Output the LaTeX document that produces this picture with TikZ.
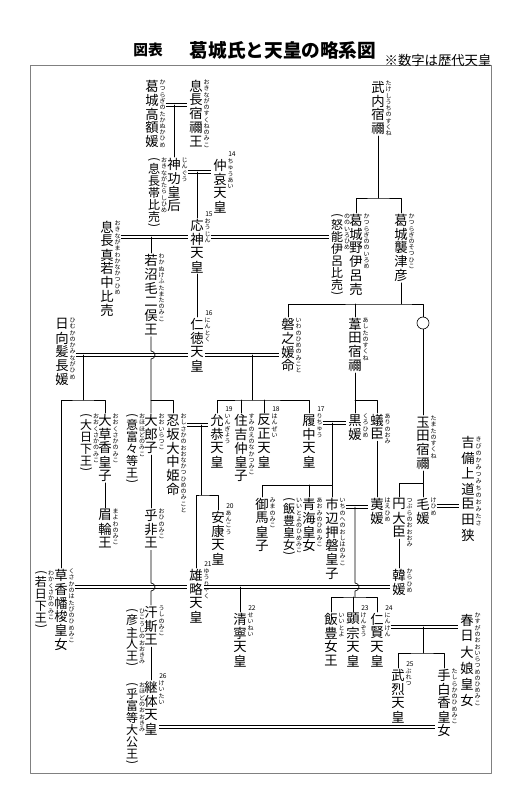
\documentclass[tikz,border=0pt]{standalone}
\usepackage{graphicx}
\usepackage{fontspec}
\setmainfont{Noto Sans CJK JP}

\makeatletter
\newdimen\vt@pitch
\def\vt@lp{(}\def\vt@rp{)}
\def\vt@box#1{\hbox to 1em{\hss\vbox to #1{\vss\hbox{\vt@c}\vss}\hss}}
\def\vt@par{\hbox to 1em{\hss\vbox to .5\vt@pitch{\vss
  \hbox{\rotatebox[origin=c]{-90}{\vt@c}}\vss}\hss}}
\def\vt@put{\ifx\vt@c\vt@lp\vt@par\else
  \ifx\vt@c\vt@rp\vt@par\else\vt@box{\vt@pitch}\fi\fi}
\newcommand\vstack[2]{\vbox{\offinterlineskip\vt@pitch=#1\relax
  \@tfor\vt@c:=#2\do{\vt@put}}}
\makeatother
\newcommand\vt[2][10.4pt]{\vstack{#1}{#2}}
\newcommand\va[1]{\vstack{9pt}{#1}}
\newcommand\vk[2][4.7pt]{\vstack{#1}{#2}}

\begin{document}
\begin{tikzpicture}[line cap=round,line join=round,x=0.75pt,y=-0.75pt,
  nm/.style={font=\fontsize{10}{10}\selectfont,inner sep=0pt,anchor=north},
  al/.style={nm,font=\fontsize{9}{9}\selectfont},
  rubytxt/.style={font=\fontsize{4.5}{4.5}\selectfont,inner sep=0pt,
    anchor=north west,xshift=0.4pt},
  nrtxt/.style={font=\fontsize{5}{5}\selectfont,inner sep=0pt,
    anchor=south west,xshift=0.8pt,yshift=1pt},
  rb/.style={label={[rubytxt]north east:\vk{#1}}},
  nr/.style={label={[nrtxt]north east:#1}},
  ln/.style={line width=0.5pt},
  mar/.style={double,double distance=1.6pt,line width=0.45pt,line cap=butt,
    shorten <=5pt,shorten >=1.5pt}]
  \useasboundingbox (0,0) rectangle (520,808);
  \draw[gray,line width=0.6pt] (30,65) rectangle (491,773);
  \node[font=\fontsize{11}{11}\selectfont\bfseries] (zuhyo) at (148,50) {図表};
  \node[font=\fontsize{14}{14}\selectfont\bfseries] (title) at (283,50) {葛城氏と天皇の略系図};
  \node[font=\fontsize{10}{10}\selectfont] (note) at (438,60) {※数字は歴代天皇};

  % names
  \node[nm,rb=かつらぎのたかぬかひめ] (takanuka) at (152,79) {\vt{葛城高額媛}};
  \node[nm,rb=おきながのすくねのみこ] (okinaga) at (196,79) {\vt{息長宿禰王}};
  \node[nm,rb=じんぐう] (jingu) at (174,157) {\vt{神功皇后}};
  \node[al,rb=おきながたらしひめ] (jinguA) at (154,157) {\va{(息長帯比売)}};
  \node[nm,nr=14,rb=ちゅうあい] (chuai) at (220,158) {\vt{仲哀天皇}};
  \node[nm,nr=15,rb=おうじん] (ojin) at (197,218) {\vt{応神天皇}};
  \node[nm,rb=おきながまわかなかつひめ] (mawaka) at (107,220) {\vt{息長真若中比売}};
  \node[nm,rb=わかぬけふたまたのみこ] (wakanuke) at (151,253) {\vt{若沼毛二俣王}};
  \node[nm,rb=たけしうちのすくね] (takeuchi) at (378,80) {\vt{武内宿禰}};
  \node[nm,rb=かつらぎのそつひこ] (sotsuhiko) at (401,213) {\vt{葛城襲津彦}};
  \node[nm,rb=かつらぎののいろめ] (noiro) at (356,213) {\vt{葛城野伊呂売}};
  \node[al,rb=ののいろひめ] (noiroA) at (337,213) {\va{(怒能伊呂比売)}};
  \node[nm,rb=ひむかのかみながひめ] (hyuga) at (62,317) {\vt{日向髪長媛}};
  \node[nm,nr=16,rb=にんとく] (nintoku) at (197,317) {\vt{仁徳天皇}};
  \node[nm,rb=いわのひめのみこと] (iwanohime) at (288,317) {\vt{磐之媛命}};
  \node[nm,rb=あしたのすくね] (ashita) at (355,317) {\vt{葦田宿禰}};
  \node[draw,circle,minimum size=9pt,inner sep=0pt,line width=0.5pt] (maru) at (423,323) {};
  \node[nm,rb=たまたのすくね] (tamata) at (423,415) {\vt{玉田宿禰}};
  \node[nm,label={[rubytxt]north east:\vk[5.3pt]{きびのかみつみちのおみたさ}}] (kibi)
    at (468,435) {\vt[11.5pt]{吉備上道臣田狭}};
  \node[nm,rb=おおくさかのみこ] (ookusaka) at (105,413) {\vt{大草香皇子}};
  \node[al,rb=おおくさかのみこ] (ookusakaA) at (86,413) {\va{(大日下王)}};
  \node[nm,rb=まよわのみこ] (mayowa) at (105,508) {\vt{眉輪王}};
  \node[nm,rb=おおいらつこ] (oiratsuko) at (151,413) {\vt{大郎子}};
  \node[al,rb=おほほどのみこ] (oiratsukoA) at (132,413) {\va{(意富々等王)}};
  \node[nm,rb=おしさかのおおなかつひめのみこと] (oshisaka) at (173,413) {\vt{忍坂大中姫命}};
  \node[nm,nr=19,rb=いんぎょう] (ingyo) at (217,413) {\vt{允恭天皇}};
  \node[nm,rb=すみのえのなかつみこ] (suminoe) at (241,413) {\vt{住吉仲皇子}};
  \node[nm,nr=18,rb=はんぜい] (hanzei) at (264,413) {\vt{反正天皇}};
  \node[nm,nr=17,rb=りちゅう] (richu) at (309,413) {\vt{履中天皇}};
  \node[nm,rb=くろひめ] (kurohime) at (355,413) {\vt{黒媛}};
  \node[nm,rb=ありのおみ] (arinoomi) at (377,413) {\vt{蟻臣}};
  \node[nm,rb=おひのみこ] (ohi) at (151,508) {\vt{乎非王}};
  \node[nm,nr=20,rb=あんこう] (anko) at (218,510) {\vt{安康天皇}};
  \node[nm,rb=みまのみこ] (mima) at (262,497) {\vt{御馬皇子}};
  \node[nm,rb=あおみのひめみこ] (aomi) at (309,497) {\vt{青海皇女}};
  \node[al,rb=いいとよのひめみこ] (aomiA) at (289,497) {\va{(飯豊皇女)}};
  \node[nm,rb=いちのへのおしはのみこ] (ichinobe) at (332,497) {\vt{市辺押磐皇子}};
  \node[nm,rb=はえひめ] (haehime) at (377,497) {\vt{荑媛}};
  \node[nm,rb=つぶらのおおおみ] (tsubura) at (399,497) {\vt{円大臣}};
  \node[nm,rb=けひめ] (kehime) at (423,497) {\vt{毛媛}};
  \node[nm,rb=からひめ] (karahime) at (399,568) {\vt{韓媛}};
  \node[nm,rb=くさかのはたびのひめみこ] (kusaka) at (61,568) {\vt{草香幡梭皇女}};
  \node[al,rb=わかくさかのみこ] (kusakaA) at (41,570) {\va{(若日下王)}};
  \node[nm,nr=21,rb=ゆうりゃく] (yuryaku) at (196,568) {\vt{雄略天皇}};
  \node[nm,rb=うしのみこ] (ushi) at (151,605) {\vt{汗斯王}};
  \node[al,rb=ひこうしのおおきみ] (ushiA) at (132,608) {\va{(彦主人王)}};
  \node[nm,nr=22,rb=せいねい] (seinei) at (240,612) {\vt{清寧天皇}};
  \node[nm,rb=いいとよ] (iitoyo) at (331,612) {\vt{飯豊女王}};
  \node[nm,nr=23,rb=けんぞう] (kenzo) at (353,612) {\vt{顕宗天皇}};
  \node[nm,nr=24,rb=にんけん] (ninken) at (377,612) {\vt{仁賢天皇}};
  \node[nm,rb=かすがのおおいらつめのひめみこ] (kasuga) at (467,612) {\vt[12pt]{春日大娘皇女}};
  \node[nm,nr=25,rb=ぶれつ] (buretsu) at (398,668) {\vt{武烈天皇}};
  \node[nm,rb=たしらかのひめみこ] (tashiraka) at (444,668) {\vt{手白香皇女}};
  \node[nm,nr=26,rb=けいたい] (keitai) at (151,680) {\vt{継体天皇}};
  \node[al,rb=おほどのおおきみ] (keitaiA) at (132,682) {\va{(乎富等大公王)}};

  % marriages
  \coordinate (m1) at (174,105);
  \coordinate (m2) at (197,172);
  \coordinate (m3) at (151,237);
  \coordinate (m5) at (83,355);
  \coordinate (m6) at (252,355);
  \coordinate (m7) at (201,425);
  \coordinate (m8) at (332,423);
  \coordinate (m9) at (355,507);
  \coordinate (m10) at (446,506);
  \coordinate (m11) at (240,587);
  \coordinate (m12) at (423,627);
  \coordinate (m13) at (300,727);
  \draw[mar] (takanuka.east |- m1) -- (okinaga.west |- m1);
  \draw[mar] (jingu.east |- m2) -- (chuai.west |- m2);
  \draw[mar] (mawaka.east |- m3) -- (ojin.west |- m3);
  \draw[mar] (ojin.east |- m3) -- (noiroA.west |- m3);
  \draw[mar] (hyuga.east |- m5) -- (nintoku.west |- m5);
  \draw[mar,shorten <=1pt] (nintoku.east |- m6) -- (iwanohime.west |- m6);
  \draw[mar] (oshisaka.east |- m7) -- (ingyo.west |- m7);
  \draw[mar] (richu.east |- m8) -- (kurohime.west |- m8);
  \draw[mar] (ichinobe.east |- m9) -- (haehime.west |- m9);
  \draw[mar] (kehime.east |- m10) -- (kibi.west |- m10);
  \draw[mar] (kusaka.east |- m11) -- (yuryaku.west |- m11);
  \draw[mar,shorten <=1pt] (yuryaku.east |- m11) -- (karahime.west |- m11);
  \draw[mar] (ninken.east |- m12) -- (kasuga.west |- m12);
  \draw[mar,shorten <=1pt] (keitai.east |- m13) -- (tashiraka.west |- m13);

  % children
  \draw[ln] (m1) -- (jingu.north);
  \draw[ln] (m2) -- (ojin.north);
  \draw[ln] (m3) -- (wakanuke.north);
  \draw[ln] (ojin.south) -- (nintoku.north);
  \coordinate (b1) at (378,198);
  \draw[ln] (takeuchi.south) -- (b1);
  \draw[ln] (noiro.north) |- (b1) -| (sotsuhiko.north);
  \coordinate (b2) at (401,304);
  \draw[ln] (sotsuhiko.south) -- (b2);
  \draw[ln] (iwanohime.north) |- (b2) -| (maru.north);
  \draw[ln] (ashita.north) -- (ashita.north |- b2);
  \draw[ln] (maru.south) -- (tamata.north);
  \coordinate (b5) at (83,400);
  \draw[ln] (m5) -- (b5);
  \draw[ln] (kusaka.north) |- (b5) -| (ookusaka.north);
  \draw[ln] (ookusaka.south) -- (mayowa.north);
  \coordinate (h1) at (151,355);
  \coordinate (b3) at (151,400);
  \draw[ln] (wakanuke.south) -- ([yshift=3pt]h1)
    arc[start angle=90,end angle=-90,radius=3pt] -- (oiratsuko.north);
  \draw[ln] (b3) -| (oshisaka.north);
  \coordinate (b6) at (252,400);
  \draw[ln] (m6) -- (b6);
  \draw[ln] (ingyo.north) |- (b6) -| (richu.north);
  \draw[ln] (suminoe.north) -- (suminoe.north |- b6);
  \draw[ln] (hanzei.north) -- (hanzei.north |- b6);
  \coordinate (b7) at (355,400);
  \draw[ln] (ashita.south) -- (kurohime.north);
  \draw[ln] (b7) -| (arinoomi.north);
  \draw[ln] (arinoomi.south) -- (haehime.north);
  \coordinate (b8) at (423,483);
  \draw[ln] (tamata.south) -- (b8);
  \draw[ln] (tsubura.north) |- (b8) -- (kehime.north);
  \draw[ln] (tsubura.south) -- (karahime.north);
  \coordinate (b9) at (201,495);
  \draw[ln] (m7) -- (b9);
  \draw[ln] (yuryaku.north) |- (b9) -| (anko.north);
  \coordinate (b10) at (332,485);
  \draw[ln] (m8) -- (b10);
  \draw[ln] (mima.north) |- (b10) -- (ichinobe.north);
  \draw[ln] (aomi.north) -- (aomi.north |- b10);
  \draw[ln] (oiratsuko.south) -- (ohi.north);
  \coordinate (h2) at (151,587);
  \draw[ln] (ohi.south) -- ([yshift=3pt]h2)
    arc[start angle=90,end angle=-90,radius=3pt] -- (ushi.north);
  \draw[ln] (ushi.south) -- (keitai.north);
  \coordinate (h3) at (355,587);
  \coordinate (b11) at (355,597);
  \draw[ln] (m9) -- ([yshift=3pt]h3)
    arc[start angle=90,end angle=-90,radius=3pt] -- (b11);
  \draw[ln] (iitoyo.north) |- (b11) -| (ninken.north);
  \draw[ln] (kenzo.north) -- (kenzo.north |- b11);
  \draw[ln] (m11) -- (seinei.north);
  \coordinate (b12) at (423,653);
  \draw[ln] (m12) -- (b12);
  \draw[ln] (buretsu.north) |- (b12) -| (tashiraka.north);
\end{tikzpicture}
\end{document}
